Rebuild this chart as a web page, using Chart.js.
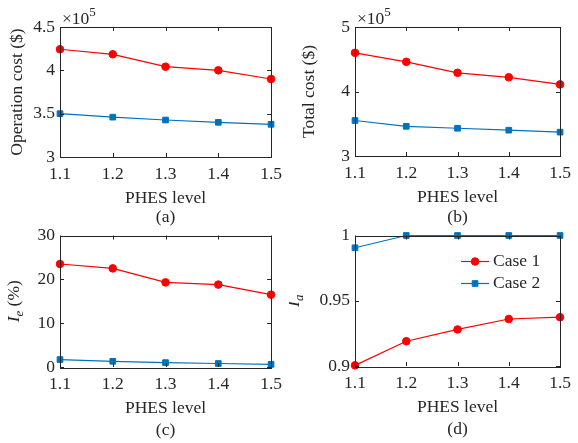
<!DOCTYPE html>
<html>
<head>
<meta charset="utf-8">
<script src="https://cdn.jsdelivr.net/npm/chart.js@4/dist/chart.umd.min.js"></script>
<style>
  html, body { margin: 0; padding: 0; background: #fff; }
  #wrap { position: relative; width: 578px; height: 443px; overflow: hidden; }
  canvas { position: absolute; }
</style>
</head>
<body>
<div id="wrap">
  <canvas id="ca" width="289" height="232" style="left:0;top:0;width:289px;height:232px"></canvas>
  <canvas id="cb" width="289" height="232" style="left:289px;top:0;width:289px;height:232px"></canvas>
  <canvas id="cc" width="289" height="223" style="left:0;top:220px;width:289px;height:223px"></canvas>
  <canvas id="cd" width="289" height="223" style="left:289px;top:220px;width:289px;height:223px"></canvas>
</div>
<script>
// ---------- data ----------
const levels = ['1.1', '1.2', '1.3', '1.4', '1.5'];
const seriesNames = ['Case 1', 'Case 2'];
const opCost1 = [424300, 418500, 404200, 400000, 390000];
const opCost2 = [350000, 346000, 342700, 340000, 337700];
const totCost1 = [460000, 446000, 429000, 422000, 411000];
const totCost2 = [355000, 346000, 343000, 340000, 337000];
const ie1 = [23.5, 22.5, 19.3, 18.8, 16.5];
const ie2 = [1.7, 1.3, 1.0, 0.8, 0.6];
const ia1 = [0.9005, 0.919, 0.928, 0.936, 0.9374];
const ia2 = [0.9906, 1, 1, 1, 1];
const xTitle = 'PHES level';
const captions = ['(a)', '(b)', '(c)', '(d)'];

const FONT = "'Liberation Serif', 'Times New Roman', serif";
const FS = 17.5;
const TXT = '#262626';
const RED = '#FF0000';
const BLUE = '#0072BD';

Chart.defaults.font.family = FONT;
Chart.defaults.font.size = FS;
Chart.defaults.color = TXT;

function ds(label, data, color, style) {
  return {
    label, data,
    borderColor: color, backgroundColor: color,
    borderWidth: 1.2,
    pointStyle: style,
    pointRadius: style === 'rect' ? 4 : 3.8,
    pointHoverRadius: style === 'rect' ? 4 : 3.8,
    pointBorderWidth: 1,
    tension: 0,
    clip: false
  };
}

function f(size, italic) {
  return (italic ? 'italic ' : '') + size + 'px ' + FONT;
}

// decoration plugin: box, inward ticks, titles, caption, exponent, legend
const deco = {
  id: 'deco',
  afterDraw(chart, args, o) {
    const ctx = chart.ctx;
    const a = chart.chartArea;
    const xs = chart.scales.x, ys = chart.scales.y;
    ctx.save();
    // box
    ctx.strokeStyle = TXT;
    ctx.lineWidth = 1;
    ctx.strokeRect(Math.round(a.left) + 0.5, Math.round(a.top) + 0.5,
                   Math.round(a.right - a.left), Math.round(a.bottom - a.top));
    // inward ticks
    const TL = 4;
    ctx.beginPath();
    xs.ticks.forEach((t, i) => {
      const px = Math.round(xs.getPixelForTick(i)) + 0.5;
      ctx.moveTo(px, a.bottom); ctx.lineTo(px, a.bottom - TL);
      ctx.moveTo(px, a.top); ctx.lineTo(px, a.top + TL);
    });
    ys.ticks.forEach((t, i) => {
      const py = Math.round(ys.getPixelForTick(i)) + 0.5;
      ctx.moveTo(a.left, py); ctx.lineTo(a.left + TL, py);
      ctx.moveTo(a.right, py); ctx.lineTo(a.right - TL, py);
    });
    ctx.stroke();

    ctx.fillStyle = TXT;
    // x title and caption
    const cx = (a.left + a.right) / 2;
    ctx.font = f(FS);
    ctx.textAlign = 'center';
    ctx.textBaseline = 'middle';
    ctx.fillText(xTitle, cx, a.bottom + 41);
    ctx.fillText(o.caption, cx, a.bottom + o.capOff);

    // y title (rich text, rotated)
    const segs = o.yTitle;
    const cy = (a.top + a.bottom) / 2;
    ctx.save();
    ctx.translate(a.left - o.yOff, cy);
    ctx.rotate(-Math.PI / 2);
    let total = 0;
    segs.forEach(s => {
      ctx.font = f(s.sub ? 13 : FS, s.italic);
      s.w = ctx.measureText(s.text).width;
      total += s.w;
    });
    let x = -total / 2;
    ctx.textAlign = 'left';
    ctx.textBaseline = 'middle';
    segs.forEach(s => {
      ctx.font = f(s.sub ? 13 : FS, s.italic);
      ctx.fillText(s.text, x, s.sub ? 6 : 0);
      x += s.w;
    });
    ctx.restore();

    // exponent
    if (o.exponent) {
      ctx.textAlign = 'left';
      ctx.textBaseline = 'alphabetic';
      ctx.font = f(FS);
      const base = '\u00D710';
      ctx.fillText(base, a.left + 2, a.top - 3);
      const w = ctx.measureText(base).width;
      ctx.font = f(13);
      ctx.fillText(o.exponent, a.left + 2 + w, a.top - 11);
    }

    // legend inside plot
    if (o.legend) {
      chart.data.datasets.forEach((d, i) => {
        const y = a.top + 26 + i * 22;
        const x0 = a.right - 99, x1 = a.right - 71;
        ctx.strokeStyle = d.borderColor;
        ctx.lineWidth = d.borderWidth;
        ctx.beginPath(); ctx.moveTo(x0, y); ctx.lineTo(x1, y); ctx.stroke();
        ctx.fillStyle = d.backgroundColor;
        ctx.lineWidth = 1;
        Chart.helpers.drawPoint(ctx, {
          pointStyle: d.pointStyle, radius: d.pointRadius, borderWidth: 1, rotation: 0
        }, (x0 + x1) / 2, y);
        ctx.fillStyle = TXT;
        ctx.font = f(FS);
        ctx.textAlign = 'left';
        ctx.textBaseline = 'middle';
        ctx.fillText(d.label, a.right - 67, y);
      });
    }
    ctx.restore();
  }
};

function makeChart(id, d1, d2, y, pad, yW, xH, opts) {
  return new Chart(document.getElementById(id), {
    type: 'line',
    data: {
      labels: levels,
      datasets: [ds(seriesNames[0], d1, RED, 'circle'), ds(seriesNames[1], d2, BLUE, 'rect')]
    },
    options: {
      responsive: false,
      animation: false,
      devicePixelRatio: 1,
      layout: { padding: pad },
      plugins: { legend: { display: false }, tooltip: { enabled: false }, deco: opts },
      scales: {
        x: {
          type: 'category', offset: false,
          grid: { display: false, drawTicks: false }, border: { display: false },
          ticks: { padding: 7, color: TXT, maxRotation: 0, autoSkip: false,
                   font: { family: FONT, size: FS } },
          afterFit(s) { s.height = xH; }
        },
        y: {
          min: y.min, max: y.max,
          grid: { display: false, drawTicks: false }, border: { display: false },
          ticks: { stepSize: y.step, padding: 5, color: TXT, callback: y.cb,
                   font: { family: FONT, size: FS } },
          afterFit(s) { s.width = yW; }
        }
      }
    },
    plugins: [deco]
  });
}

const fmt = v => String(Math.round(v * 100) / 100);
const fmt5 = v => String(Math.round(v / 1e3) / 100);

makeChart('ca', opCost1, opCost2,
  { min: 300000, max: 450000, step: 50000, cb: fmt5 },
  { top: 27, right: 17, left: 0, bottom: 12 }, 60, 63,
  { caption: captions[0], capOff: 60, yOff: 43, exponent: '5',
    yTitle: [{ text: 'Operation cost ($)' }] });

makeChart('cb', totCost1, totCost2,
  { min: 300000, max: 500000, step: 100000, cb: fmt5 },
  { top: 27, right: 12, left: 0, bottom: 12 }, 66, 64,
  { caption: captions[1], capOff: 61, yOff: 46, exponent: '5',
    yTitle: [{ text: 'Total cost ($)' }] });

makeChart('cc', ie1, ie2,
  { min: 0, max: 30, step: 10, cb: fmt },
  { top: 15, right: 17, left: 0, bottom: 0 }, 60, 76,
  { caption: captions[2], capOff: 63, yOff: 46,
    yTitle: [{ text: 'I', italic: true }, { text: 'e', italic: true, sub: true }, { text: ' (%)' }] });

makeChart('cd', ia1, ia2,
  { min: 0.9, max: 1, step: 0.05, cb: fmt },
  { top: 15, right: 12, left: 0, bottom: 0 }, 66, 77,
  { caption: captions[3], capOff: 63, yOff: 61, legend: true,
    yTitle: [{ text: 'I', italic: true }, { text: 'a', italic: true, sub: true }] });
</script>
</body>
</html>
